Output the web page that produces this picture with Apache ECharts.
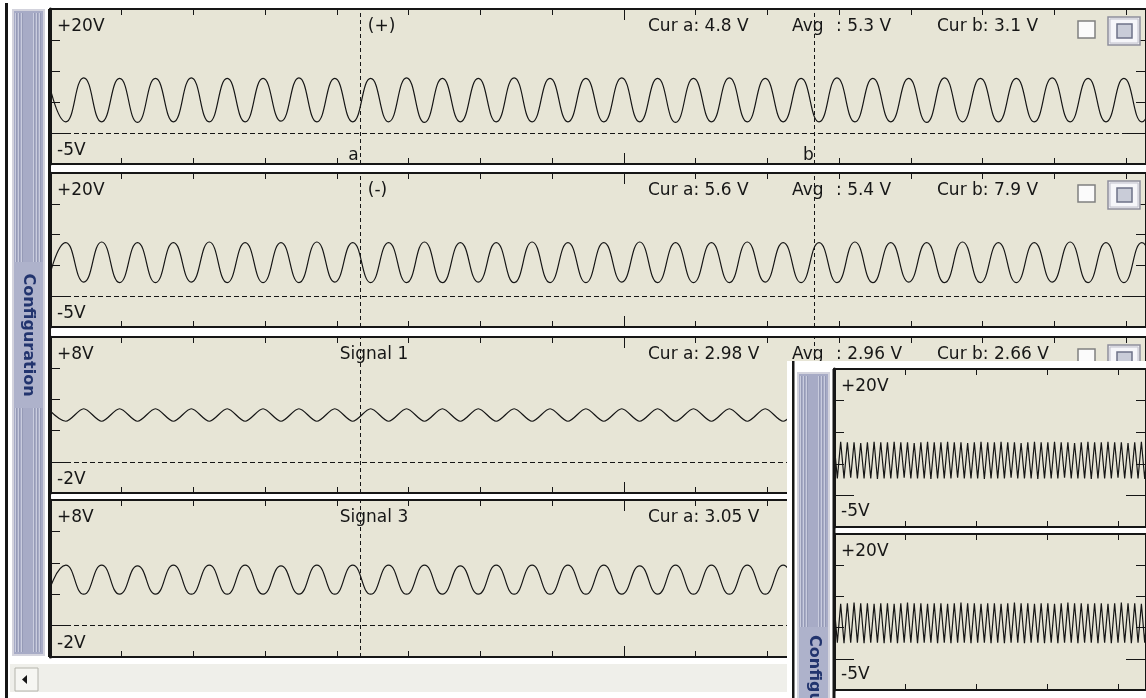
<!DOCTYPE html>
<html><head><meta charset="utf-8">
<script src="https://cdn.jsdelivr.net/npm/echarts@6/dist/echarts.min.js"></script>
<style>html,body{margin:0;padding:0;background:#fff}#c{width:1146px;height:698px}</style>
</head><body><div id="c"></div>
<script>
// ================= DATA =================
const channelNames = ['(+)', '(-)', 'Signal 1', 'Signal 3'];
const rangeHigh = [20, 20, 8, 8];
const rangeLow = [-5, -5, -2, -2];
const tickStep = [5, 5, 2, 2];
const highLabels = ['+20V', '+20V', '+8V', '+8V'];
const lowLabels = ['-5V', '-5V', '-2V', '-2V'];
const curAReadings = ['Cur a: 4.8 V', 'Cur a: 5.6 V', 'Cur a: 2.98 V', 'Cur a: 3.05 V'];
const avgReadings = [': 5.3 V', ': 5.4 V', ': 2.96 V', ''];
const curBReadings = ['Cur b: 3.1 V', 'Cur b: 7.9 V', 'Cur b: 2.66 V', ''];
const cursorA = 4.33;   // divisions
const cursorB = 10.65;  // divisions

// waveform extremes (V), one value every half period
const mainStep = 0.25;          // divisions between successive extremes
const ch1Start = -0.03;
const ch1 = [8.8,1.8,8.9,1.8,8.8,1.7,8.8,1.8,8.9,1.8,8.8,1.8,8.8,1.9,8.9,1.8,
             8.8,1.8,8.8,1.8,8.9,1.7,8.8,1.8,8.8,1.8,8.9,1.8,8.8,1.8,8.8,1.8,
             8.9,1.8,8.8,1.7,8.8,1.8,8.9,1.8,8.8,1.8,8.8,1.8,8.9,1.8,8.8,1.8,
             8.8,1.7,8.9,1.8,8.8,1.8,8.8,1.8,8.9,1.8,8.8,1.8,8.8,1.8,8.9,1.8];
const ch2Start = -0.03;
const ch2 = [2.2,8.7,2.3,8.8,2.2,8.7,2.2,8.7,2.3,8.8,2.2,8.7,2.2,8.7,2.2,8.8,
             2.3,8.7,2.2,8.7,2.2,8.8,2.2,8.7,2.3,8.7,2.2,8.8,2.2,8.7,2.2,8.7,
             2.3,8.8,2.2,8.7,2.2,8.7,2.2,8.8,2.3,8.7,2.2,8.7,2.2,8.8,2.2,8.7,
             2.3,8.7,2.2,8.8,2.2,8.7,2.2,8.7,2.3,8.8,2.2,8.7,2.2,8.7,2.2,8.8];
const ch3Start = -0.03;
const ch3 = [3.4,2.6,3.4,2.6,3.4,2.6,3.4,2.6,3.4,2.6,3.4,2.6,3.4,2.6,3.4,2.6,
             3.4,2.6,3.4,2.6,3.4,2.6,3.4,2.6,3.4,2.6,3.4,2.6,3.4,2.6,3.4,2.6,
             3.4,2.6,3.4,2.6,3.4,2.6,3.4,2.6,3.4,2.6,3.4,2.6];
const ch4Start = -0.03;
const ch4 = [2.0,3.85,2.0,3.85,2.0,3.8,2.0,3.85,2.0,3.85,2.0,3.85,2.0,3.8,2.0,3.85,
             2.0,3.85,2.0,3.85,2.0,3.85,2.0,3.8,2.0,3.85,2.0,3.85,2.0,3.85,2.0,3.85,
             2.0,3.8,2.0,3.85,2.0,3.85,2.0,3.85,2.0,3.85,2.0,3.85];

// second (inset) window
const insetHighLabels = ['+20V', '+20V'];
const insetLowLabels = ['-5V', '-5V'];
const insetHigh = [20, 20];
const insetLow = [-5, -5];
const insetStep = 0.047;
const insetStart = 0;
const insetA = [8.4,2.7,8.5,2.7,8.4,2.8,8.4,2.7,8.3,2.7,8.4,2.7,8.5,2.6,8.4,2.7,
                8.4,2.7,8.5,2.7,8.4,2.8,8.4,2.7,8.3,2.7,8.4,2.7,8.5,2.6,8.4,2.7,
                8.4,2.7,8.5,2.7,8.4,2.8,8.4,2.7,8.3,2.7,8.4,2.7,8.5,2.6,8.4,2.7,
                8.4,2.7,8.5,2.7,8.4,2.8,8.4,2.7,8.3,2.7,8.4,2.7,8.5,2.6,8.4,2.7,
                8.4,2.7,8.5,2.7,8.4,2.8,8.4,2.7,8.3,2.7,8.4,2.7,8.5,2.6,8.4,2.7,
                8.4,2.7,8.5,2.7,8.4,2.8,8.4,2.7,8.3,2.7,8.4,2.7,8.5,2.6,8.4,2.7];
const insetB = [8.9,2.6,8.8,2.5,8.9,2.6,9.0,2.6,8.9,2.5,8.9,2.6,8.8,2.6,8.9,2.5,
                8.9,2.6,8.8,2.5,8.9,2.6,9.0,2.6,8.9,2.5,8.9,2.6,8.8,2.6,8.9,2.5,
                8.9,2.6,8.8,2.5,8.9,2.6,9.0,2.6,8.9,2.5,8.9,2.6,8.8,2.6,8.9,2.5,
                8.9,2.6,8.8,2.5,8.9,2.6,9.0,2.6,8.9,2.5,8.9,2.6,8.8,2.6,8.9,2.5,
                8.9,2.6,8.8,2.5,8.9,2.6,9.0,2.6,8.9,2.5,8.9,2.6,8.8,2.6,8.9,2.5,
                8.9,2.6,8.8,2.5,8.9,2.6,9.0,2.6,8.9,2.5,8.9,2.6,8.8,2.6,8.9,2.5];

// ================= LAYOUT / STYLE =================
const PX_PER_DIV = 72;
const INK = '#161616';
const BG = '#E7E5D6';
const FONT = '17px "DejaVu Sans"';
const mainLayout = [{top:9,height:155},{top:173,height:154},{top:337,height:156},{top:500,height:157}];
const MAIN_LEFT = 50, MAIN_WIDTH = 1100;
const insetLayout = [{top:369,height:158},{top:534,height:156}];
const INSET_LEFT = 834, INSET_WIDTH = 316;

const option = {animation:false, backgroundColor:'#ffffff', grid:[], xAxis:[], yAxis:[], series:[], graphic:[]};
const G = option.graphic;

function addPanel(p) {
  const gi = option.grid.length;
  const xMax = p.width / PX_PER_DIV;
  option.grid.push({left:p.left, top:p.top, width:p.width, height:p.height, show:true,
    backgroundColor:BG, borderWidth:0, z:p.z});
  const tickStyle = {color:INK, width:1};
  const xBase = {gridIndex:gi, type:'value', min:0, max:xMax, axisLabel:{show:false}, splitLine:{show:false}, z:p.z+1};
  const xi = option.xAxis.length;
  ['bottom','top'].forEach(pos => {
    option.xAxis.push(Object.assign({}, xBase, {position:pos, interval:1,
      axisLine:{show:true, onZero:false, lineStyle:{color:INK, width:2}},
      axisTick:{show:true, inside:true, length:6, lineStyle:tickStyle}}));
  });
  ['bottom','top'].forEach(pos => {
    option.xAxis.push(Object.assign({}, xBase, {position:pos, interval:8,
      axisLine:{show:false, onZero:false}, axisTick:{show:true, inside:true, length:11, lineStyle:tickStyle}}));
  });
  const yBase = {gridIndex:gi, type:'value', min:p.yMin, max:p.yMax, axisLabel:{show:false}, splitLine:{show:false}, z:p.z+1};
  const yi = option.yAxis.length;
  option.yAxis.push(Object.assign({}, yBase, {position:'left', interval:p.yStep,
    axisLine:{show:true, onZero:false, lineStyle:{color:INK, width:3}},
    axisTick:{show:true, inside:true, length:10, lineStyle:tickStyle}}));
  option.yAxis.push(Object.assign({}, yBase, {position:'right', interval:p.yStep,
    axisLine:{show:true, onZero:false, lineStyle:{color:INK, width:2}},
    axisTick:{show:true, inside:true, length:10, lineStyle:tickStyle}}));
  ['left','right'].forEach(pos => {
    option.yAxis.push(Object.assign({}, yBase, {position:pos, interval:p.yStep,
      axisLine:{show:false, onZero:false},
      axisTick:{show:true, inside:true, length:20, customValues:[0], lineStyle:tickStyle}}));
  });
  const ml = [{yAxis:0, lineStyle:{type:[5,3]}}];
  (p.cursors || []).forEach(c => ml.push({xAxis:c, lineStyle:{type:[4,3]}}));
  option.series.push({type:'line', xAxisIndex:xi, yAxisIndex:yi,
    data:p.values.map((v,k) => [p.start + k*p.step, v]),
    smooth:p.smooth, symbol:'none', silent:true, z:p.z+2,
    lineStyle:{color:INK, width:1.2},
    markLine:{silent:true, symbol:['none','none'], label:{show:false}, animation:false,
      lineStyle:{color:INK, width:1}, data:ml}});
}

function rect(x,y,w,h,fill,z,stroke,lw){
  G.push({type:'rect', silent:true, z:z, shape:{x:x,y:y,width:w,height:h},
    style:{fill:fill, stroke:stroke||null, lineWidth:lw||0}});
}
function text(x,y,str,z,extra){
  G.push({type:'text', silent:true, z:z, x:x, y:y,
    style:Object.assign({text:str, font:FONT, fill:INK, align:'left', verticalAlign:'middle'}, extra||{})});
}
function sidebar(x,y,w,h,tx,ty,tAlign,tTop,tH,z){
  rect(x,y,w,h,'#D3D3DD',z);
  rect(x+2,y+2,w-4,h-4,'#A7ABC6',z);
  [3,6,9,w-12,w-9,w-6].forEach(dx => {
    rect(x+dx,y+4,1,h-8,'#C9CCDE',z);
    rect(x+dx+1,y+4,1,h-8,'#959AB6',z);
  });
  rect(x+2,tTop,w-4,tH,'#AEB2CB',z);
  G.push({type:'text', silent:true, z:z, x:tx, y:ty, rotation:-Math.PI/2,
    style:{text:'Configuration', font:'bold 16px "DejaVu Sans"', fill:'#22346E', align:tAlign, verticalAlign:'middle'}});
}
function checkboxes(top, z){
  rect(1078, top+12, 17, 17, '#FBFBFB', z, '#808080', 1.5);
  rect(1108, top+8, 32, 28, '#ECECF0', z, '#8E8E9C', 1.5);
  rect(1110, top+10, 28, 24, '#F6F6FA', z, '#C2C2CE', 1);
  rect(1117, top+15, 15, 14, '#C9CCD8', z, '#6E7288', 1.5);
}

// ---- main window chrome ----
rect(5, 3, 3, 695, INK, 0);
sidebar(12, 9, 33, 647, 28, 335, 'center', 262, 146, 0);
rect(48, 9, 3, 648, INK, 6);
rect(10, 664, 777, 28, '#EFEFEA', 0);
rect(15, 668, 23, 23, '#F6F6F2', 1, '#B4B4AC', 1);
G.push({type:'polygon', silent:true, z:2, shape:{points:[[22,679.5],[27,675],[27,684]]}, style:{fill:INK}});

// ---- main panels ----
const chData = [ch1, ch2, ch3, ch4];
const chStart = [ch1Start, ch2Start, ch3Start, ch4Start];
mainLayout.forEach((L, i) => {
  addPanel({left:MAIN_LEFT, top:L.top, width:MAIN_WIDTH, height:L.height,
    yMin:rangeLow[i], yMax:rangeHigh[i], yStep:tickStep[i],
    values:chData[i], start:chStart[i], step:mainStep, smooth: i === 2 ? 0.3 : 0.5,
    cursors:[cursorA, cursorB], z:1});
  text(57, L.top + 17.5, highLabels[i], 5);
  text(57, L.top + L.height - 13, lowLabels[i], 5);
  const cx = MAIN_LEFT + cursorA * PX_PER_DIV;
  text(i < 2 ? cx + 6 : cx - 22, L.top + 17.5, channelNames[i], 5);
  text(648, L.top + 17.5, curAReadings[i], 5);
  if (avgReadings[i]) {
    text(792, L.top + 17.5, 'Avg', 5);
    text(836, L.top + 17.5, avgReadings[i], 5);
  }
  if (curBReadings[i]) text(937, L.top + 17.5, curBReadings[i], 5);
  if (i < 3) checkboxes(L.top, 5);
});
text(MAIN_LEFT + cursorA * PX_PER_DIV - 3, mainLayout[0].top + mainLayout[0].height - 8, 'a', 5, {align:'right'});
text(MAIN_LEFT + cursorB * PX_PER_DIV - 3, mainLayout[0].top + mainLayout[0].height - 8, 'b', 5, {align:'right'});

// ---- inset window ----
rect(787, 361, 360, 337, '#FFFFFF', 50);
rect(792, 361, 2.5, 337, INK, 51);
sidebar(797, 372, 33, 330, 814, 635, 'left', 627, 75, 52);
rect(832.5, 369, 3, 329, INK, 66);
const insetData = [insetA, insetB];
insetLayout.forEach((L, i) => {
  addPanel({left:INSET_LEFT, top:L.top, width:INSET_WIDTH, height:L.height,
    yMin:insetLow[i], yMax:insetHigh[i], yStep:5,
    values:insetData[i], start:insetStart, step:insetStep, smooth:false, cursors:[], z:60});
  text(841, L.top + 18, insetHighLabels[i], 65);
  text(841, L.top + L.height - 15, insetLowLabels[i], 65);
});

const chart = echarts.init(document.getElementById('c'), null, {renderer:'canvas'});
chart.setOption(option);
</script>
</body></html>
